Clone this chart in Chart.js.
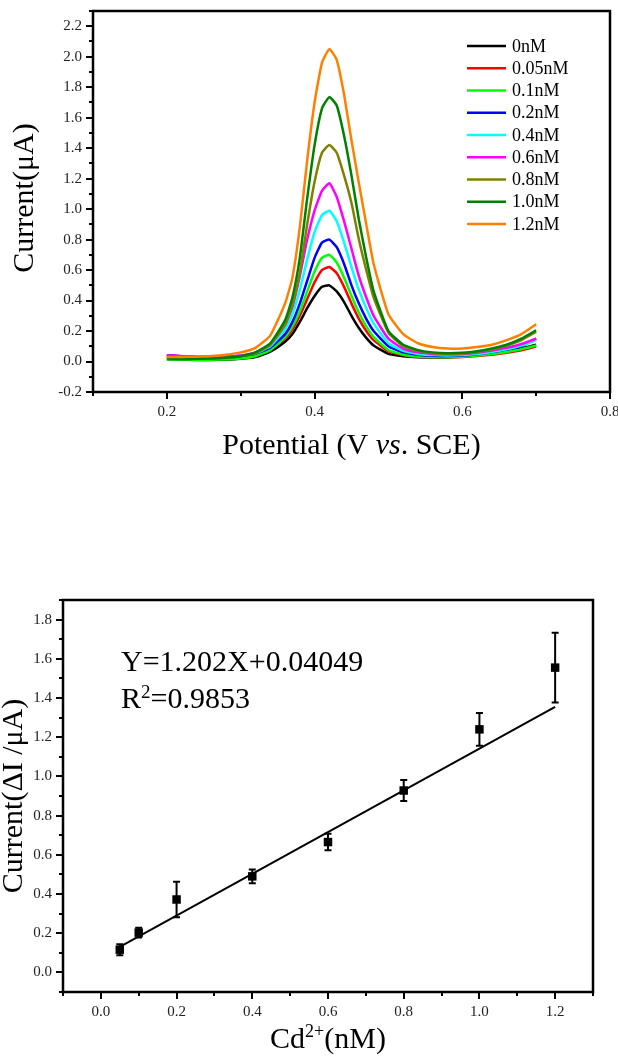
<!DOCTYPE html>
<html>
<head>
<meta charset="utf-8">
<script src="https://cdn.jsdelivr.net/npm/chart.js@4.4.1/dist/chart.umd.min.js"></script>
<style>
    html, body { margin: 0; padding: 0; background: #fff; }
    #wrap { position: relative; width: 618px; height: 1060px; }
    canvas { position: absolute; left: 0; }
    #dpv { top: 0; }
    #calib { top: 580px; }
</style>
</head>
<body>
<div id="wrap">
    <canvas id="dpv" width="618" height="480"></canvas>
    <canvas id="calib" width="618" height="480"></canvas>
</div>
<script>
// ---- DPV curves (potential in V, current in µA) ----
const potential = [0.20, 0.22, 0.24, 0.26, 0.28, 0.30, 0.32, 0.34, 0.36, 0.37, 0.38, 0.39, 0.40, 0.41, 0.42, 0.43,
                   0.44, 0.45, 0.46, 0.47, 0.48, 0.50, 0.52, 0.54, 0.56, 0.58, 0.60, 0.62, 0.64, 0.66, 0.68, 0.70];

const concLabels = ['0nM', '0.05nM', '0.1nM', '0.2nM', '0.4nM', '0.6nM', '0.8nM', '1.0nM', '1.2nM'];

const cur0nM   = [0.015, 0.012, 0.010, 0.010, 0.012, 0.018, 0.030, 0.065, 0.13, 0.18, 0.26, 0.35, 0.43, 0.49, 0.50, 0.46,
                  0.39, 0.30, 0.22, 0.155, 0.105, 0.050, 0.035, 0.028, 0.025, 0.027, 0.032, 0.040, 0.050, 0.065, 0.085, 0.11];
const cur005nM = [0.040, 0.035, 0.030, 0.028, 0.028, 0.032, 0.045, 0.080, 0.15, 0.21, 0.30, 0.41, 0.52, 0.60, 0.62, 0.58,
                  0.49, 0.38, 0.28, 0.20, 0.14, 0.068, 0.042, 0.032, 0.028, 0.028, 0.030, 0.036, 0.045, 0.057, 0.073, 0.098];
const cur01nM  = [0.015, 0.013, 0.012, 0.012, 0.014, 0.020, 0.035, 0.075, 0.16, 0.23, 0.33, 0.46, 0.59, 0.68, 0.70, 0.65,
                  0.55, 0.43, 0.32, 0.23, 0.16, 0.075, 0.045, 0.033, 0.028, 0.028, 0.032, 0.040, 0.050, 0.063, 0.080, 0.105];
const cur02nM  = [0.040, 0.035, 0.030, 0.030, 0.032, 0.038, 0.052, 0.090, 0.18, 0.26, 0.38, 0.53, 0.68, 0.78, 0.80, 0.75,
                  0.64, 0.50, 0.38, 0.28, 0.20, 0.10, 0.060, 0.045, 0.038, 0.037, 0.040, 0.048, 0.060, 0.078, 0.10, 0.15];
const cur04nM  = [0.035, 0.030, 0.028, 0.028, 0.030, 0.037, 0.055, 0.10, 0.21, 0.31, 0.47, 0.67, 0.85, 0.96, 0.99, 0.92,
                  0.78, 0.62, 0.47, 0.35, 0.25, 0.12, 0.070, 0.050, 0.042, 0.040, 0.043, 0.050, 0.063, 0.080, 0.105, 0.14];
const cur06nM  = [0.040, 0.035, 0.030, 0.030, 0.033, 0.040, 0.060, 0.11, 0.24, 0.36, 0.56, 0.80, 0.99, 1.12, 1.17, 1.08,
                  0.92, 0.74, 0.56, 0.42, 0.30, 0.15, 0.085, 0.060, 0.050, 0.048, 0.050, 0.058, 0.072, 0.090, 0.115, 0.15];
const cur08nM  = [0.030, 0.025, 0.022, 0.022, 0.026, 0.035, 0.055, 0.11, 0.24, 0.37, 0.58, 0.90, 1.18, 1.37, 1.42, 1.37,
                  1.22, 1.04, 0.80, 0.60, 0.42, 0.19, 0.10, 0.070, 0.055, 0.050, 0.052, 0.062, 0.080, 0.105, 0.14, 0.195];
const cur10nM  = [0.020, 0.018, 0.018, 0.020, 0.025, 0.035, 0.060, 0.12, 0.27, 0.42, 0.68, 1.07, 1.42, 1.66, 1.735, 1.68,
                  1.48, 1.22, 0.93, 0.68, 0.46, 0.20, 0.11, 0.075, 0.060, 0.055, 0.058, 0.068, 0.085, 0.11, 0.15, 0.205];
const cur12nM  = [0.030, 0.030, 0.032, 0.036, 0.045, 0.060, 0.090, 0.17, 0.38, 0.55, 0.88, 1.32, 1.70, 1.96, 2.05, 1.98,
                  1.75, 1.45, 1.17, 0.90, 0.64, 0.31, 0.18, 0.12, 0.095, 0.085, 0.085, 0.095, 0.11, 0.14, 0.18, 0.245];

const dpvSeries = [cur0nM, cur005nM, cur01nM, cur02nM, cur04nM, cur06nM, cur08nM, cur10nM, cur12nM];
const dpvXLabels = ['0.2', '0.4', '0.6', '0.8'];

// ---- calibration (Cd2+ in nM, ΔI in µA) ----
const cdConc    = [0.05, 0.1, 0.2, 0.4, 0.6, 0.8, 1.0, 1.2];
const deltaI    = [0.116, 0.203, 0.372, 0.490, 0.665, 0.928, 1.240, 1.555];
const deltaIErr = [0.028, 0.025, 0.090, 0.035, 0.042, 0.053, 0.083, 0.178];
const fitX      = [0.05, 1.2];
const fitY      = [0.13, 1.355];

// styles
const SERIF = "'Liberation Serif', 'Times New Roman', serif";
const seriesColors = ['#000000', '#ff0000', '#00ff00', '#0000ff', '#00ffff', '#ff00ff', '#808000', '#008000', '#ff8000'];

const tenth = v => Math.round(v * 10);
const isMajor = v => tenth(v) % 2 === 0;

// box round the plot area + outward major/minor ticks
const framePlugin = {
    id: 'frame',
    afterDraw(chart) {
        const { ctx, chartArea: a, scales: { x, y } } = chart;
        ctx.save();
        ctx.strokeStyle = '#000';
        ctx.lineWidth = 2;
        ctx.beginPath();
        x.ticks.forEach(t => {
            const px = Math.round(x.getPixelForValue(t.value));
            ctx.moveTo(px, a.bottom);
            ctx.lineTo(px, a.bottom + (isMajor(t.value) ? 7 : 4));
        });
        y.ticks.forEach(t => {
            const py = Math.round(y.getPixelForValue(t.value));
            ctx.moveTo(a.left, py);
            ctx.lineTo(a.left - (isMajor(t.value) ? 7 : 4), py);
        });
        ctx.stroke();
        ctx.lineWidth = 2.5;
        ctx.strokeRect(a.left, a.top, a.right - a.left, a.bottom - a.top);
        ctx.restore();
    }
};

// draw text runs (mixed fonts / superscripts) on one baseline
function drawRuns(ctx, runs, x, y, align) {
    let total = 0;
    runs.forEach(r => { ctx.font = r.font; r.w = ctx.measureText(r.text).width; total += r.w; });
    let cx = align === 'center' ? x - total / 2 : x;
    ctx.textAlign = 'left';
    ctx.textBaseline = 'alphabetic';
    runs.forEach(r => { ctx.font = r.font; ctx.fillText(r.text, cx, y + (r.dy || 0)); cx += r.w; });
}

function drawVertical(ctx, text, x, y, font) {
    ctx.save();
    ctx.translate(x, y);
    ctx.rotate(-Math.PI / 2);
    ctx.font = font;
    ctx.textAlign = 'center';
    ctx.textBaseline = 'middle';
    ctx.fillText(text, 0, 0);
    ctx.restore();
}

const tickFont = { family: SERIF, size: 15 };

// fixed axis box sizes; label overhang must not shrink the plot area
const fixX = h => s => { s.height = h; s.paddingLeft = 0; s.paddingRight = 0; };
const fixY = w => s => { s.width = w; s.paddingTop = 0; s.paddingBottom = 0; };

function axis(min, max, extra) {
    return Object.assign({
        type: 'linear', min: min, max: max,
        grid: { display: false, drawTicks: false },
        border: { display: false },
    }, extra);
}

// ---------- chart 1: DPV curves ----------
const dpvText = {
    id: 'dpvText',
    afterDraw(chart) {
        const { ctx, chartArea: a } = chart;
        ctx.save();
        ctx.fillStyle = '#000';
        drawVertical(ctx, 'Current(μA)', 25, 198, '30px ' + SERIF);
        drawRuns(ctx, [
            { text: 'Potential (V ', font: '30px ' + SERIF },
            { text: 'vs', font: 'italic 30px ' + SERIF },
            { text: '. SCE)', font: '30px ' + SERIF },
        ], (a.left + a.right) / 2, 454, 'center');

        // legend inside the plot, top right
        ctx.lineWidth = 2.5;
        ctx.font = '18px ' + SERIF;
        ctx.textAlign = 'left';
        ctx.textBaseline = 'middle';
        chart.data.datasets.forEach((ds, i) => {
            const ly = 46 + i * 22.25;
            ctx.strokeStyle = ds.borderColor;
            ctx.beginPath();
            ctx.moveTo(467, ly);
            ctx.lineTo(506, ly);
            ctx.stroke();
            ctx.fillStyle = '#000';
            ctx.fillText(ds.label, 512, ly + 1);
        });
        ctx.restore();
    }
};

new Chart(document.getElementById('dpv'), {
    type: 'scatter',
    data: {
        datasets: dpvSeries.map((vals, i) => ({
            label: concLabels[i],
            data: potential.map((p, j) => ({ x: p, y: vals[j] })),
            showLine: true,
            borderColor: seriesColors[i],
            backgroundColor: seriesColors[i],
            borderWidth: 2.5,
            pointRadius: 0,
            tension: 0.15,
            order: dpvSeries.length - i,
        })),
    },
    options: {
        responsive: false,
        animation: false,
        devicePixelRatio: 1,
        layout: { padding: { top: 11, right: 8, left: 0, bottom: 0 } },
        plugins: { legend: { display: false }, tooltip: { enabled: false } },
        scales: {
            x: axis(0.1, 0.8, {
                afterFit: fixX(88),
                ticks: {
                    stepSize: 0.1, padding: 11, autoSkip: false, maxRotation: 0,
                    font: tickFont, color: '#222',
                    callback: v => dpvXLabels.includes(v.toFixed(1)) ? v.toFixed(1) : '',
                },
            }),
            y: axis(-0.2, 2.3, {
                afterFit: fixY(93),
                ticks: {
                    stepSize: 0.1, padding: 11, autoSkip: false,
                    font: tickFont, color: '#222',
                    callback: v => isMajor(v) ? v.toFixed(1) : '',
                },
            }),
        },
    },
    plugins: [framePlugin, dpvText],
});

// ---------- chart 2: calibration ----------
const calibText = {
    id: 'calibText',
    beforeDatasetsDraw(chart) {
        // error bars, drawn under the square markers
        const { ctx, scales: { x, y } } = chart;
        ctx.save();
        ctx.strokeStyle = '#000';
        ctx.lineWidth = 2;
        ctx.beginPath();
        cdConc.forEach((c, i) => {
            const px = x.getPixelForValue(c);
            const hi = y.getPixelForValue(deltaI[i] + deltaIErr[i]);
            const lo = y.getPixelForValue(deltaI[i] - deltaIErr[i]);
            ctx.moveTo(px, hi); ctx.lineTo(px, lo);
            ctx.moveTo(px - 3.5, hi); ctx.lineTo(px + 3.5, hi);
            ctx.moveTo(px - 3.5, lo); ctx.lineTo(px + 3.5, lo);
        });
        ctx.stroke();
        ctx.restore();
    },
    afterDraw(chart) {
        const { ctx, chartArea: a } = chart;
        ctx.save();
        ctx.fillStyle = '#000';
        drawVertical(ctx, 'Current(ΔI /μA)', 14, 216, '30px ' + SERIF);
        drawRuns(ctx, [{ text: 'Y=1.202X+0.04049', font: '30px ' + SERIF }], 121, 91, 'left');
        drawRuns(ctx, [
            { text: 'R', font: '30px ' + SERIF },
            { text: '2', font: '19px ' + SERIF, dy: -10 },
            { text: '=0.9853', font: '30px ' + SERIF },
        ], 121, 128, 'left');
        drawRuns(ctx, [
            { text: 'Cd', font: '30px ' + SERIF },
            { text: '2+', font: '18px ' + SERIF, dy: -11 },
            { text: '(nM)', font: '30px ' + SERIF },
        ], (a.left + a.right) / 2, 468, 'center');
        ctx.restore();
    }
};

new Chart(document.getElementById('calib'), {
    type: 'scatter',
    data: {
        datasets: [
            {
                label: 'ΔI',
                data: cdConc.map((c, i) => ({ x: c, y: deltaI[i] })),
                pointStyle: 'rect',
                pointRadius: 6,
                backgroundColor: '#000',
                borderColor: '#000',
                borderWidth: 0,
                order: 1,
            },
            {
                label: 'fit',
                data: fitX.map((c, i) => ({ x: c, y: fitY[i] })),
                showLine: true,
                borderColor: '#000',
                borderWidth: 2,
                pointRadius: 0,
                order: 2,
            },
        ],
    },
    options: {
        responsive: false,
        animation: false,
        devicePixelRatio: 1,
        layout: { padding: { top: 20, right: 25, left: 0, bottom: 0 } },
        plugins: { legend: { display: false }, tooltip: { enabled: false } },
        scales: {
            x: axis(-0.1, 1.3, {
                afterFit: fixX(68),
                ticks: {
                    stepSize: 0.1, padding: 11, autoSkip: false, maxRotation: 0,
                    font: tickFont, color: '#222',
                    callback: v => (isMajor(v) && v > -0.05 && v < 1.25) ? v.toFixed(1) : '',
                },
            }),
            y: axis(-0.1, 1.9, {
                afterFit: fixY(63),
                ticks: {
                    stepSize: 0.1, padding: 11, autoSkip: false,
                    font: tickFont, color: '#222',
                    callback: v => (isMajor(v) && v > -0.05 && v < 1.85) ? v.toFixed(1) : '',
                },
            }),
        },
    },
    plugins: [framePlugin, calibText],
});
</script>
</body>
</html>
